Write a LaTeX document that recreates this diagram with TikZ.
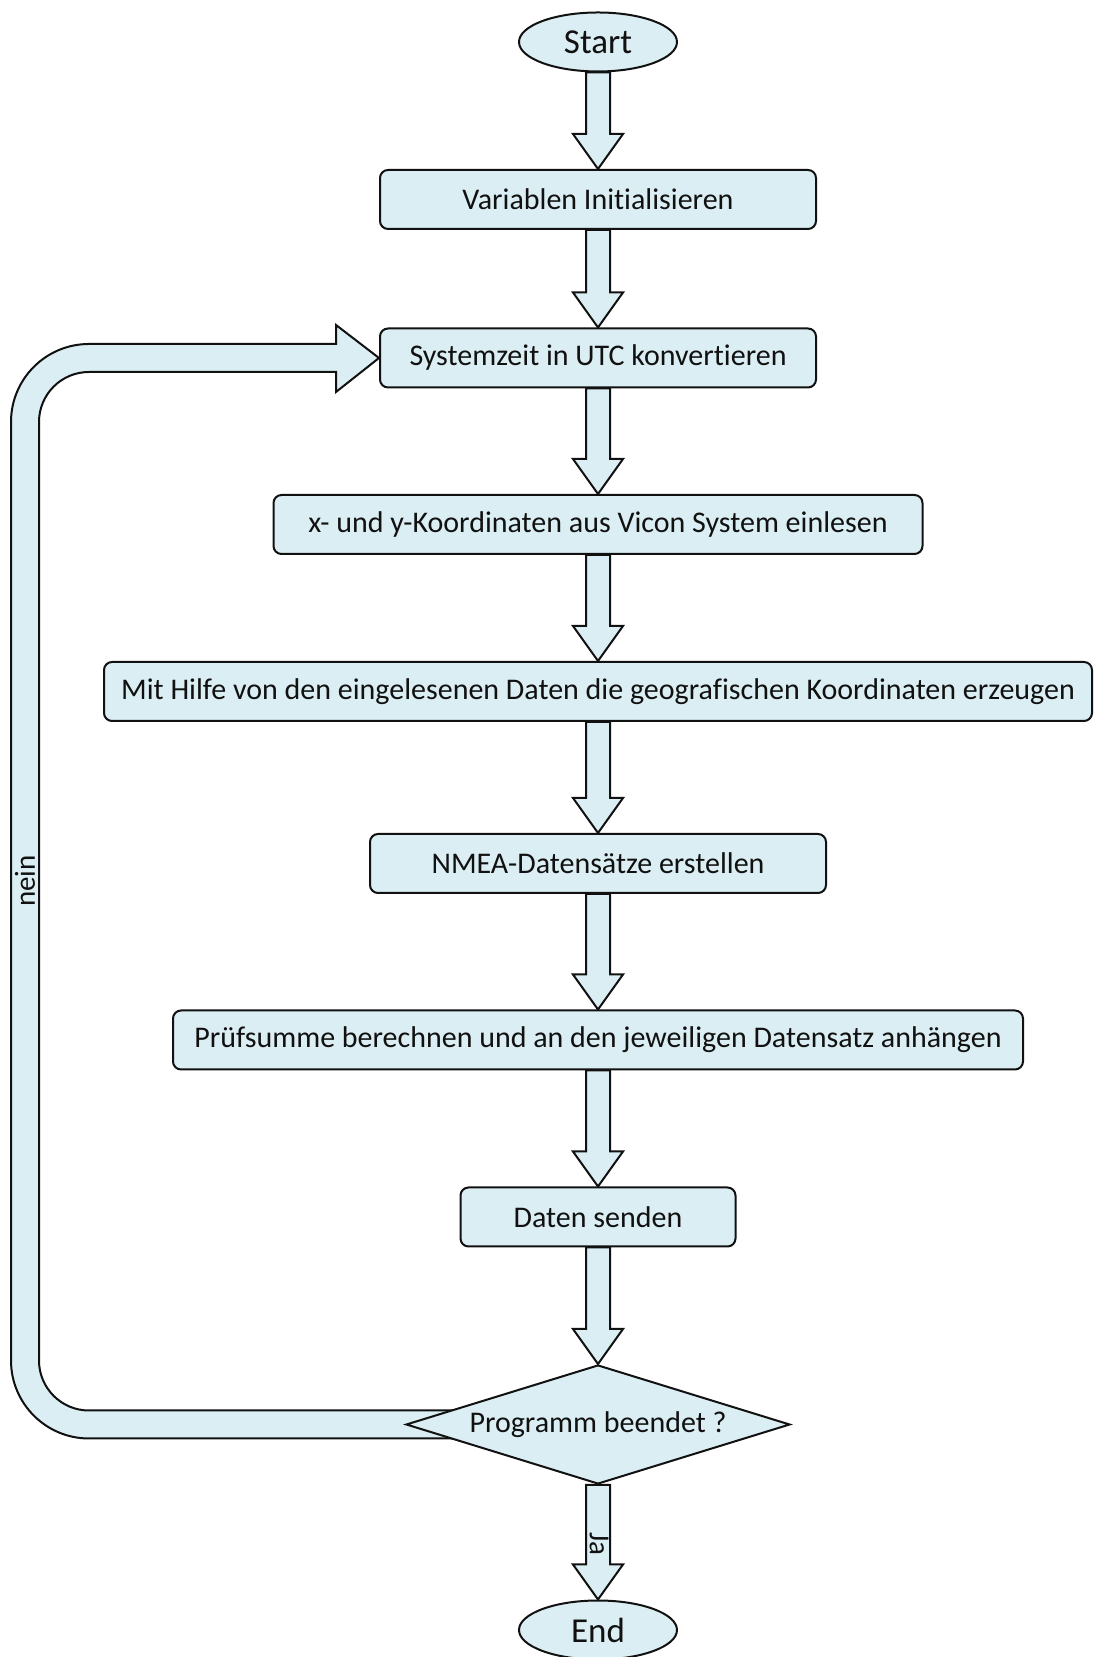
\documentclass[tikz,border=0pt]{standalone}
\usepackage{fontspec}
\setmainfont{Carlito}[Ligatures=NoCommon]
\usetikzlibrary{shapes.geometric,calc,backgrounds}
\definecolor{boxfill}{HTML}{DBEEF3}
\definecolor{ink}{HTML}{111111}
\tikzset{
  box/.style={draw=ink, line width=2pt, fill=boxfill, rounded corners=8pt, minimum height=59pt, inner sep=0pt, font=\fontsize{30pt}{34pt}\selectfont, text=ink},
  term/.style={draw=ink, line width=2pt, fill=boxfill, ellipse, minimum width=158pt, minimum height=59pt, inner sep=0pt, font=\fontsize{35pt}{40pt}\selectfont, text=ink},
  decide/.style={draw=ink, line width=2pt, fill=boxfill, diamond, aspect=3.2, minimum width=384pt, minimum height=119pt, inner sep=0pt, font=\fontsize{30pt}{34pt}\selectfont, text=ink},
  blockarrow/.style={draw=ink, line width=2pt, fill=boxfill, line join=miter},
  lbl/.style={font=\fontsize{29pt}{33pt}\selectfont, text=ink, inner sep=0pt}
}
\newcommand{\blk}[2]{%
  \path[blockarrow] let \p1=(#1.south), \p2=(#2.north) in
    (\x1-12pt,\y1) -- (\x1-12pt,\y2+35pt) -- (\x1-25pt,\y2+35pt) -- (\p2)
    -- (\x1+25pt,\y2+35pt) -- (\x1+12pt,\y2+35pt) -- (\x1+12pt,\y1) -- cycle;}
\begin{document}
\begin{tikzpicture}[x=1pt,y=1pt]
\useasboundingbox (0,0) rectangle (1094,1657);
\node[term] (start) at (598,1615) {Start};
\node[box, minimum width=436pt] (b1) at (598,1457.5) {Variablen Initialisieren};
\node[box, minimum width=436pt] (b2) at (598,1299) {Systemzeit in UTC konvertieren};
\node[box, minimum width=649pt] (b3) at (598,1132.5) {x- und y-Koordinaten aus Vicon System einlesen};
\node[box, minimum width=988pt] (b4) at (598,965.5) {Mit Hilfe von den eingelesenen Daten die geografischen Koordinaten erzeugen};
\node[box, minimum width=456pt] (b5) at (598,793.5) {NMEA-Datensätze erstellen};
\node[box, minimum width=850pt] (b6) at (598,617) {Prüfsumme berechnen und an den jeweiligen Datensatz anhängen};
\node[box, minimum width=275pt] (b7) at (598,440) {Daten senden};
\node[decide] (dia) at (598,232.5) {Programm beendet ?};
\node[term] (end) at (598,27) {End};
\begin{scope}[on background layer]
\blk{start}{b1}
\blk{b1}{b2}
\blk{b2}{b3}
\blk{b3}{b4}
\blk{b4}{b5}
\blk{b5}{b6}
\blk{b6}{b7}
\blk{b7}{dia}
\blk{dia}{end}
\path[blockarrow] let \p1=(dia.center), \p2=(b2.west) in
  (\x1,\y1+14pt) -- (89pt,\y1+14pt) arc[start angle=270,end angle=180,radius=50pt]
  -- (39pt,\y2-64pt) arc[start angle=180,end angle=90,radius=50pt]
  -- (\x2-43pt,\y2-14pt) -- (\x2-43pt,\y2-34pt) -- (\p2) -- (\x2-43pt,\y2+33pt)
  -- (\x2-43pt,\y2+14pt) -- (89pt,\y2+14pt) arc[start angle=90,end angle=180,radius=78pt]
  -- (11pt,\y1-14pt+78pt) arc[start angle=180,end angle=270,radius=78pt]
  -- (\x1,\y1-14pt) -- cycle;
\end{scope}
\node[lbl, rotate=90] (nein) at (25,776) {nein};
\node[lbl, rotate=-90] (ja) at (599,113) {Ja};
\end{tikzpicture}
\end{document}
